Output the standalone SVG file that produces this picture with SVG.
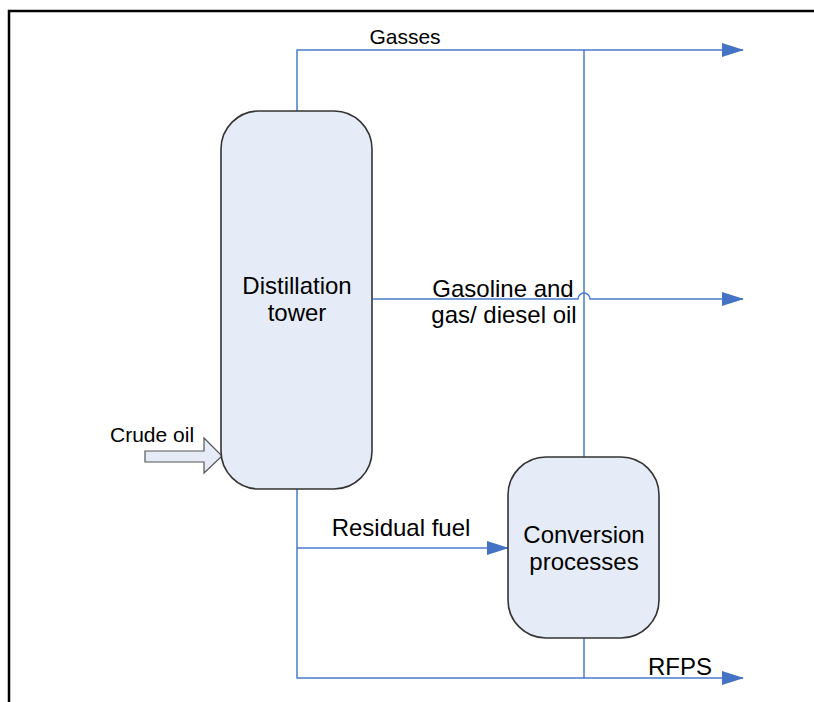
<svg xmlns="http://www.w3.org/2000/svg" width="814" height="702" viewBox="0 0 814 702">
<defs>
<style>
.node{fill:#e6ecf7;stroke:#333;stroke-width:1.6}
.ln{fill:none;stroke:#4a7ccc;stroke-width:1.5}
.t{font-family:"Liberation Sans",Arial,sans-serif;font-size:24px;fill:#000}
.ts{font-family:"Liberation Sans",Arial,sans-serif;font-size:21px;fill:#000}
</style>
<marker id="ah" markerWidth="22" markerHeight="14" refX="21" refY="7" orient="auto" markerUnits="userSpaceOnUse">
<path d="M0,0 L22,7 L0,14 Z" fill="#4472c4"/>
</marker>
</defs>
<rect width="814" height="702" fill="#fff"/>
<g id="frame" fill="none" stroke="#000" stroke-width="2.5">
<path d="M9,702 V11 H814"/>
</g>
<g id="connectors">
<path class="ln" d="M297,111 V50 H743" marker-end="url(#ah)"/>
<path class="ln" d="M584,50 V457"/>
<path class="ln" d="M373,299 H578 A6,6 0 0 1 590,299 H743" marker-end="url(#ah)"/>
<path class="ln" d="M297,489 V678 H743" marker-end="url(#ah)"/>
<path class="ln" d="M297,548 H508" marker-end="url(#ah)"/>
<path class="ln" d="M584,638 V678"/>
</g>
<g id="crude-oil">
<path d="M145,451 H204 V438 L222,456 L204,473 V462 H145 Z" fill="#e6ecf7" stroke="#555" stroke-width="1.2"/>
<text class="ts" x="110" y="442">Crude oil</text>
</g>
<g id="distillation-tower">
<rect class="node" x="221" y="111" width="151" height="378" rx="38" ry="38"/>
<text class="t" x="297" y="294" text-anchor="middle">Distillation</text>
<text class="t" x="297" y="321" text-anchor="middle">tower</text>
</g>
<g id="conversion-processes">
<rect class="node" x="508" y="457" width="151" height="181" rx="38" ry="38"/>
<text class="t" x="584" y="543" text-anchor="middle">Conversion</text>
<text class="t" x="584" y="570" text-anchor="middle">processes</text>
</g>
<g id="labels">
<text class="ts" x="405" y="44" text-anchor="middle">Gasses</text>
<text class="t" x="503" y="297" text-anchor="middle">Gasoline and</text>
<text class="t" x="504" y="323" text-anchor="middle">gas/ diesel oil</text>
<text class="t" x="401" y="536" text-anchor="middle">Residual fuel</text>
<text class="t" x="680" y="675" text-anchor="middle">RFPS</text>
</g>
</svg>
